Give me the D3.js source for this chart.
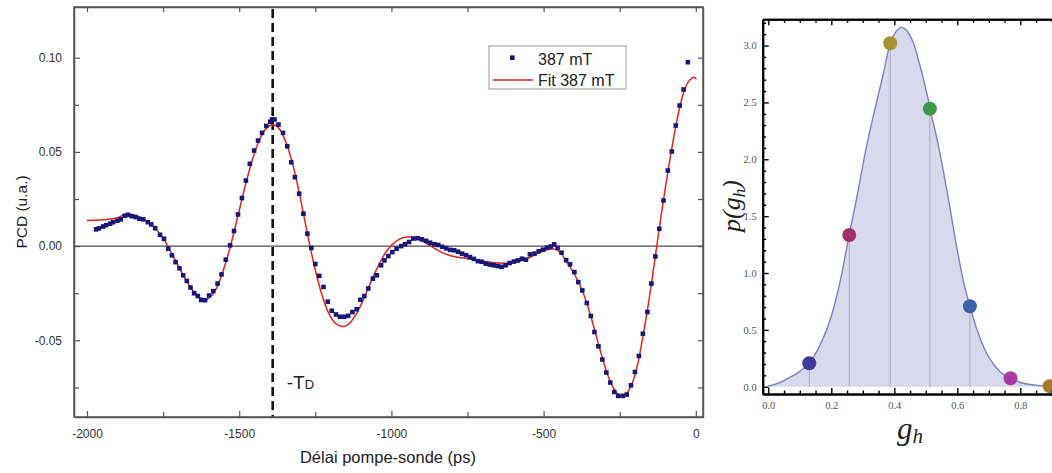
<!DOCTYPE html>
<html><head><meta charset="utf-8">
<script src="https://cdn.jsdelivr.net/npm/d3@7"></script>
<style>
html,body{margin:0;padding:0;background:#fff;overflow:hidden;}
svg{display:block;}
</style></head>
<body><svg id="c" width="1052" height="473"></svg>
<script>
// ---------- Left chart data ----------
const timePs = [-1970,-1961,-1947,-1937,-1924,-1914,-1900,-1889,-1876,-1865,-1853,-1840,-1828,-1815,-1800,-1789,-1776,-1760,-1747,-1733,-1721,-1709,-1696,-1684,-1672,-1660,-1648,-1636,-1625,-1612,-1599,-1585,-1571,-1558,-1544,-1530,-1517,-1504,-1491,-1478,-1465,-1451,-1438,-1425,-1411,-1398,-1392,-1384,-1371,-1356,-1342,-1329,-1317,-1303,-1289,-1276,-1263,-1250,-1237,-1223,-1209,-1196,-1182,-1169,-1155,-1142,-1128,-1114,-1102,-1089,-1076,-1061,-1048,-1034,-1023,-1010,-997,-983,-968,-955,-942,-928,-914,-900,-886,-873,-859,-846,-833,-820,-807,-794,-781,-768,-755,-742,-729,-716,-703,-690,-677,-664,-651,-638,-625,-612,-598,-585,-571,-558,-545,-530,-516,-502,-489,-476,-465,-454,-441,-426,-413,-399,-386,-373,-358,-345,-333,-320,-307,-294,-281,-268,-255,-240,-227,-213,-200,-187,-174,-159,-146,-133,-120,-106,-92,-79,-66,-53,-40,-26];
const pcd387 = [0.0089,0.0094,0.0104,0.0111,0.0119,0.0127,0.0135,0.0142,0.0161,0.0166,0.0159,0.0154,0.0145,0.0142,0.0127,0.0115,0.0095,0.0060,0.0039,-0.0014,-0.0049,-0.0085,-0.0118,-0.0155,-0.0185,-0.0220,-0.0250,-0.0265,-0.0286,-0.0287,-0.0262,-0.0239,-0.0199,-0.0150,-0.0072,0.0004,0.0080,0.0168,0.0255,0.0348,0.0437,0.0507,0.0560,0.0601,0.0638,0.0660,0.0672,0.0672,0.0645,0.0601,0.0530,0.0445,0.0366,0.0278,0.0172,0.0066,-0.0010,-0.0095,-0.0158,-0.0217,-0.0295,-0.0343,-0.0363,-0.0375,-0.0375,-0.0370,-0.0350,-0.0335,-0.0285,-0.0265,-0.0225,-0.0173,-0.0155,-0.0102,-0.0076,-0.0053,-0.0032,-0.0014,0.0000,0.0010,0.0022,0.0040,0.0042,0.0036,0.0028,0.0018,0.0010,0.0006,-0.0004,-0.0012,-0.0020,-0.0022,-0.0030,-0.0040,-0.0048,-0.0058,-0.0068,-0.0080,-0.0083,-0.0093,-0.0098,-0.0102,-0.0106,-0.0110,-0.0102,-0.0090,-0.0082,-0.0076,-0.0067,-0.0072,-0.0044,-0.0040,-0.0027,-0.0019,-0.0008,-0.0002,0.0009,-0.0010,-0.0035,-0.0075,-0.0097,-0.0138,-0.0191,-0.0235,-0.0302,-0.0371,-0.0456,-0.0532,-0.0602,-0.0671,-0.0724,-0.0774,-0.0795,-0.0795,-0.0788,-0.0739,-0.0668,-0.0583,-0.0465,-0.0350,-0.0199,-0.0055,0.0092,0.0242,0.0401,0.0502,0.0640,0.0746,0.0831,0.0976];
const fitTimePs = [-2000,-1960,-1930,-1900,-1873,-1850,-1825,-1800,-1775,-1750,-1725,-1700,-1675,-1650,-1625,-1610,-1595,-1575,-1555,-1535,-1515,-1495,-1475,-1455,-1435,-1415,-1395,-1380,-1365,-1345,-1325,-1305,-1285,-1265,-1245,-1225,-1205,-1185,-1165,-1150,-1135,-1115,-1095,-1075,-1055,-1035,-1015,-995,-975,-955,-935,-915,-895,-875,-855,-835,-815,-795,-770,-745,-720,-695,-670,-645,-620,-595,-570,-545,-520,-500,-485,-470,-455,-440,-425,-410,-395,-380,-365,-350,-335,-320,-305,-290,-275,-260,-245,-232,-220,-205,-190,-175,-160,-145,-130,-115,-100,-85,-70,-55,-40,-25,-12,-5,2];
const fitPcd387 = [0.0136,0.0138,0.0142,0.0150,0.0169,0.0166,0.0152,0.0128,0.0092,0.0042,-0.0030,-0.0105,-0.0180,-0.0240,-0.0278,-0.0284,-0.0270,-0.0224,-0.0142,-0.0037,0.0088,0.0222,0.0352,0.0468,0.0558,0.0617,0.0643,0.0640,0.0615,0.0545,0.0440,0.0300,0.0140,-0.0020,-0.0160,-0.0275,-0.0360,-0.0408,-0.0425,-0.0424,-0.0405,-0.0360,-0.0295,-0.0220,-0.0145,-0.0078,-0.0025,0.0012,0.0036,0.0047,0.0048,0.0040,0.0024,0.0005,-0.0015,-0.0033,-0.0046,-0.0055,-0.0062,-0.0068,-0.0074,-0.0081,-0.0087,-0.0090,-0.0091,-0.0087,-0.0077,-0.0060,-0.0040,-0.0026,-0.0018,-0.0015,-0.0021,-0.0045,-0.0082,-0.0120,-0.0160,-0.0210,-0.0270,-0.0345,-0.0430,-0.0520,-0.0605,-0.0680,-0.0740,-0.0780,-0.0795,-0.0790,-0.0765,-0.0710,-0.0620,-0.0490,-0.0350,-0.0190,-0.0020,0.0150,0.0310,0.0460,0.0600,0.0720,0.0815,0.0870,0.0893,0.0896,0.0885];
const xMajorTicks = [-2000,-1500,-1000,-500,0];
const xMinorTicks = [-1750,-1250,-750,-250];
const yMajorTicks = [-0.05,0.00,0.05,0.10];
const yMinorTicks = [-0.075,-0.025,0.025,0.075];
const yTickLabels = ["-0.05","0.00","0.05","0.10"];
const tDelay = -1390;
const legendLabels = ["387 mT","Fit 387 mT"];

// ---------- Right chart data ----------
const gGrid = [0.000,0.030,0.060,0.100,0.130,0.165,0.200,0.230,0.257,0.280,0.310,0.340,0.365,0.387,0.405,0.423,0.440,0.460,0.480,0.500,0.513,0.540,0.570,0.600,0.620,0.640,0.660,0.690,0.720,0.750,0.769,0.800,0.830,0.860,0.900,0.950,1.000];
const pGrid = [0.005,0.030,0.070,0.135,0.210,0.370,0.620,0.950,1.340,1.650,2.090,2.460,2.750,3.020,3.120,3.160,3.130,3.030,2.840,2.620,2.450,2.120,1.680,1.200,0.920,0.710,0.520,0.310,0.180,0.100,0.074,0.037,0.020,0.010,0.005,0.002,0.001];
const dotG = [0.130,0.257,0.387,0.513,0.640,0.769,0.893];
const dotP = [0.206,1.334,3.020,2.445,0.707,0.074,0.005];
const dotColors = ["#3d3a9c","#a4306a","#a69230","#3a9a4c","#3a64aa","#ac3aa6","#a8782e"];
const gTicks = [0.0,0.2,0.4,0.6,0.8];
const pTicks = [0.0,0.5,1.0,1.5,2.0,2.5,3.0];

const svg = d3.select("#c");

// ================= LEFT CHART =================
const L = {l:74, r:703, t:7, b:417};
const x = d3.scaleLinear().domain([-2042.7, 23.6]).range([L.l, L.r]);
const y = d3.scaleLinear().domain([-0.0907, 0.1269]).range([L.b, L.t]);
const axisCol = "#555";
const lg = svg.append("g");

lg.append("line").attr("x1",L.l).attr("x2",L.r).attr("y1",y(0)).attr("y2",y(0))
  .attr("stroke","#4a4a4a").attr("stroke-width",1.3);

lg.append("line").attr("x1",x(tDelay)).attr("x2",x(tDelay)).attr("y1",L.t+2).attr("y2",L.b)
  .attr("stroke","#111").attr("stroke-width",2.6).attr("stroke-dasharray","9,5");

const fitData = fitTimePs.map((t,i)=>[t,fitPcd387[i]]);
lg.append("path").datum(fitData)
  .attr("d", d3.line().x(d=>x(d[0])).y(d=>y(d[1])).curve(d3.curveCatmullRom))
  .attr("fill","none").attr("stroke","#e8231c").attr("stroke-width",1.5);

const ptData = timePs.map((t,i)=>[t,pcd387[i]]);
lg.selectAll("rect.pt").data(ptData).enter().append("rect").attr("class","pt")
  .attr("x",d=>x(d[0])-2.3).attr("y",d=>y(d[1])-2.3).attr("width",4.6).attr("height",4.6)
  .attr("fill","#17177a");

function axisStyle(g){
  g.selectAll(".domain").attr("stroke",axisCol).attr("stroke-width",1.5);
  g.selectAll(".tick line").attr("stroke",axisCol).attr("stroke-width",1.2);
  g.selectAll("text").attr("fill","#333").style("font-family","'Liberation Sans', Arial, sans-serif").style("font-size","12px");
}
const fmtX = d=>d===0?"0":String(d);
lg.append("g").attr("transform",`translate(0,${L.b})`)
  .call(d3.axisBottom(x).tickValues(xMajorTicks).tickFormat(fmtX).tickSizeInner(-6).tickSizeOuter(0).tickPadding(12))
  .call(axisStyle);
lg.append("g").attr("transform",`translate(0,${L.b})`)
  .call(d3.axisBottom(x).tickValues(xMinorTicks).tickFormat("").tickSizeInner(-5).tickSizeOuter(0))
  .call(axisStyle).select(".domain").remove();
lg.append("g").attr("transform",`translate(0,${L.t})`)
  .call(d3.axisTop(x).tickValues(xMajorTicks.concat(xMinorTicks)).tickFormat("").tickSizeInner(-5).tickSizeOuter(0))
  .call(axisStyle);
lg.append("g").attr("transform",`translate(${L.l},0)`)
  .call(d3.axisLeft(y).tickValues(yMajorTicks).tickFormat((d,i)=>yTickLabels[i]).tickSizeInner(-6).tickSizeOuter(0).tickPadding(12))
  .call(axisStyle);
lg.append("g").attr("transform",`translate(${L.l},0)`)
  .call(d3.axisLeft(y).tickValues(yMinorTicks).tickFormat("").tickSizeInner(-5).tickSizeOuter(0))
  .call(axisStyle).select(".domain").remove();
lg.append("g").attr("transform",`translate(${L.r},0)`)
  .call(d3.axisRight(y).tickValues(yMajorTicks.concat(yMinorTicks)).tickFormat("").tickSizeInner(-5).tickSizeOuter(0))
  .call(axisStyle);
lg.append("rect").attr("x",L.l).attr("y",L.t).attr("width",L.r-L.l).attr("height",L.b-L.t)
  .attr("fill","none").attr("stroke",axisCol).attr("stroke-width",1.5);

lg.append("text").attr("x",388).attr("y",463).attr("text-anchor","middle")
  .style("font-family","'Liberation Sans', Arial, sans-serif").style("font-size","16.5px").attr("fill","#222")
  .text("Délai pompe-sonde (ps)");
lg.append("text").attr("transform","translate(27,212) rotate(-90)").attr("text-anchor","middle")
  .style("font-family","'Liberation Sans', Arial, sans-serif").style("font-size","15.5px").attr("fill","#222")
  .text("PCD (u.a.)");

const td = lg.append("text").attr("x",x(tDelay)+14).attr("y",389)
  .style("font-family","'Liberation Sans', Arial, sans-serif").attr("fill","#222");
td.append("tspan").style("font-size","19px").text("-T");
td.append("tspan").style("font-size","13px").text("D");

const lgBox = lg.append("g");
lgBox.append("rect").attr("x",489).attr("y",46).attr("width",137).attr("height",43)
  .attr("fill","#fff").attr("stroke","#9a9a9a").attr("stroke-width",1);
lgBox.append("rect").attr("x",512.3-2.3).attr("y",57.7-2.3).attr("width",4.6).attr("height",4.6).attr("fill","#17177a");
lgBox.append("line").attr("x1",493).attr("x2",533).attr("y1",80).attr("y2",80).attr("stroke","#e8231c").attr("stroke-width",1.5);
lgBox.selectAll("text").data(legendLabels).enter().append("text")
  .attr("x",538).attr("y",(d,i)=>64.5+i*21.5)
  .style("font-family","'Liberation Sans', Arial, sans-serif").style("font-size","16px").attr("fill","#222")
  .text(d=>d);

// ================= RIGHT CHART =================
const R = {l:762.7, t:19.3, b:394};
const gx = d3.scaleLinear().domain([-0.0178, 1.0]).range([R.l, R.l + 1.0178*315]);
const py = d3.scaleLinear().domain([-0.064, 3.231]).range([R.b, R.t]);
const rg = svg.append("g");
const cData = gGrid.map((g,i)=>[g,pGrid[i]]);
rg.append("path").datum(cData)
  .attr("d", d3.area().x(d=>gx(d[0])).y0(py(0)).y1(d=>py(d[1])).curve(d3.curveMonotoneX))
  .attr("fill","#d9d9ee");
rg.selectAll("line.drop").data(dotG).enter().append("line").attr("class","drop")
  .attr("x1",d=>gx(d)).attr("x2",d=>gx(d)).attr("y1",(d,i)=>py(dotP[i])).attr("y2",py(0))
  .attr("stroke","#b9a3c2").attr("stroke-width",1);
rg.append("path").datum(cData)
  .attr("d", d3.line().x(d=>gx(d[0])).y(d=>py(d[1])).curve(d3.curveMonotoneX))
  .attr("fill","none").attr("stroke","#7f7fc4").attr("stroke-width",1.4);
rg.selectAll("circle.dot").data(dotG).enter().append("circle").attr("class","dot")
  .attr("cx",d=>gx(d)).attr("cy",(d,i)=>py(dotP[i])).attr("r",7)
  .attr("fill",(d,i)=>dotColors[i]);

function mStyle(g){
  g.selectAll(".domain").attr("stroke","#000").attr("stroke-width",2);
  g.selectAll(".tick line").attr("stroke","#000").attr("stroke-width",1.4);
  g.selectAll("text").attr("fill","#555").style("font-family","'Liberation Serif', 'DejaVu Serif', serif").style("font-size","10.5px");
}
const gMinor = d3.range(0, 1.01, 0.05).filter(v=>Math.abs(v*5-Math.round(v*5))>1e-6);
const pMinor = d3.range(0, 3.21, 0.1).filter(v=>Math.abs(v*2-Math.round(v*2))>1e-6);
rg.append("g").attr("transform",`translate(0,${R.b})`)
  .call(d3.axisBottom(gx).tickValues(gTicks).tickFormat(d3.format(".1f")).tickSizeInner(-6).tickSizeOuter(0).tickPadding(8))
  .call(mStyle);
rg.append("g").attr("transform",`translate(0,${R.b})`)
  .call(d3.axisBottom(gx).tickValues(gMinor).tickFormat("").tickSizeInner(-3.5).tickSizeOuter(0))
  .call(mStyle);
rg.append("g").attr("transform",`translate(0,${R.t})`)
  .call(d3.axisTop(gx).tickValues(gTicks).tickFormat("").tickSizeInner(-6).tickSizeOuter(0))
  .call(mStyle);
rg.append("g").attr("transform",`translate(0,${R.t})`)
  .call(d3.axisTop(gx).tickValues(gMinor).tickFormat("").tickSizeInner(-3.5).tickSizeOuter(0))
  .call(mStyle);
rg.append("g").attr("transform",`translate(${R.l},0)`)
  .call(d3.axisLeft(py).tickValues(pTicks).tickFormat(d3.format(".1f")).tickSizeInner(-6).tickSizeOuter(0).tickPadding(6))
  .call(mStyle);
rg.append("g").attr("transform",`translate(${R.l},0)`)
  .call(d3.axisLeft(py).tickValues(pMinor).tickFormat("").tickSizeInner(-3.5).tickSizeOuter(0))
  .call(mStyle);

const yt = rg.append("text").attr("transform","translate(740,206) rotate(-90)").attr("text-anchor","middle")
  .style("font-family","'Liberation Serif', 'DejaVu Serif', serif").style("font-style","italic").attr("fill","#222");
yt.append("tspan").style("font-size","26px").text("p(g");
yt.append("tspan").style("font-size","17px").attr("dy",5).text("h");
yt.append("tspan").style("font-size","26px").attr("dy",-5).text(")");
const xt = rg.append("text").attr("x",910).attr("y",439).attr("text-anchor","middle")
  .style("font-family","'Liberation Serif', 'DejaVu Serif', serif").style("font-style","italic").attr("fill","#222");
xt.append("tspan").style("font-size","31px").text("g");
xt.append("tspan").style("font-size","21px").attr("dy",4).text("h");
</script></body></html>
